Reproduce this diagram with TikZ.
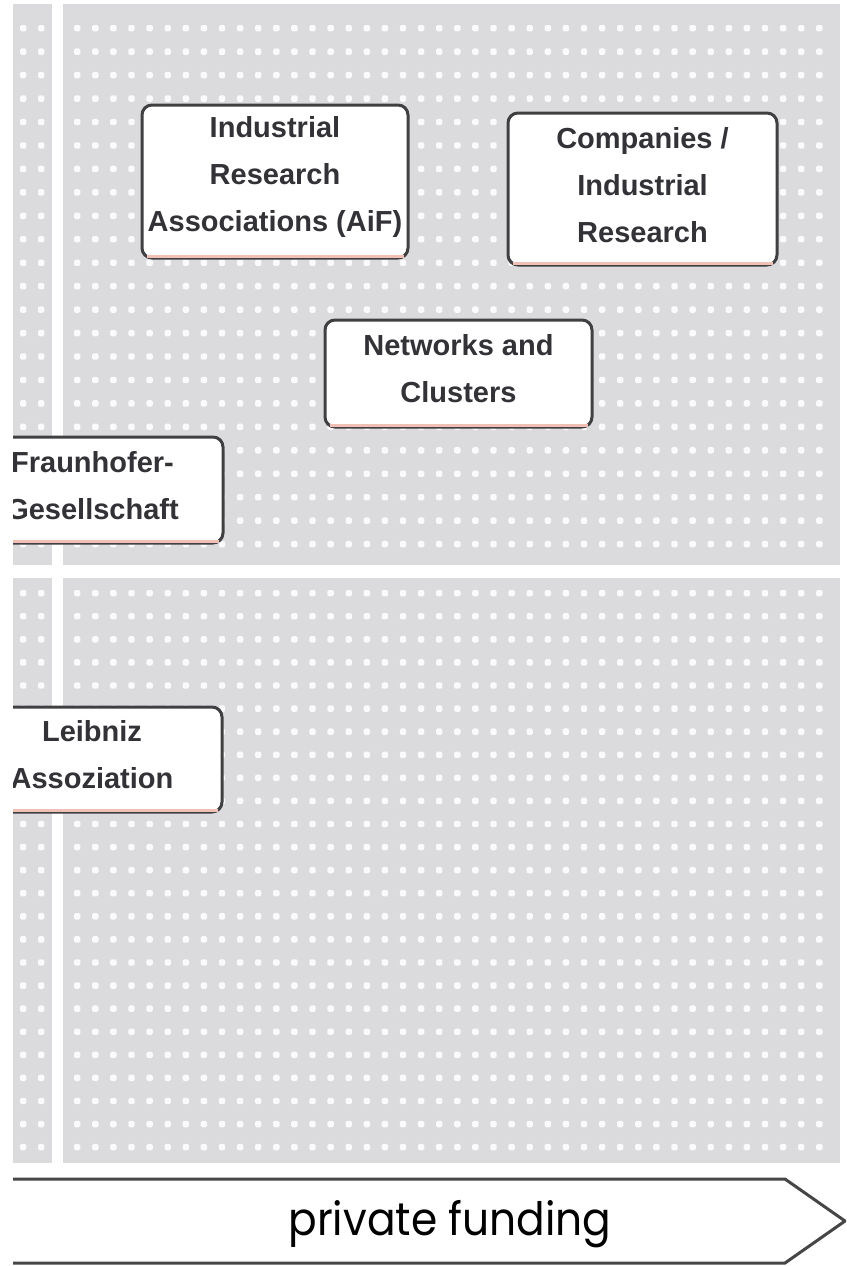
\documentclass[tikz,border=0pt]{standalone}
\usepackage{fontspec}
\setmainfont{Liberation Sans}
\newfontfamily\geofont{Poppins}
\definecolor{panelgray}{RGB}{219,219,221}
\definecolor{boxborder}{RGB}{64,64,66}
\definecolor{boxtext}{RGB}{50,50,55}
\definecolor{pinkline}{RGB}{240,192,182}
\definecolor{arrowline}{RGB}{70,70,70}
\definecolor{dotwhite}{RGB}{250,250,252}
\tikzset{
  panel/.style={fill=panelgray, draw=none},
  dot/.style={fill=dotwhite, rounded corners=1.5pt},
  orgbox/.style={draw=boxborder, line width=3pt, fill=white, rounded corners=10pt,
    inner sep=0pt},
  orgtext/.style={align=center, inner sep=0pt, text=boxtext,
    font=\fontsize{29}{47}\selectfont\bfseries},
  pinkbar/.style={draw=pinkline, line width=3pt},
  fundarrow/.style={draw=arrowline, line width=3pt, fill=white, line join=miter},
  fundtext/.style={font=\geofont\fontsize{46}{46}\selectfont, text=black, xscale=0.92}
}
\begin{document}
\begin{tikzpicture}[x=1pt, y=-1pt]
\useasboundingbox (0,0) rectangle (846,1266);
\fill[white] (0,0) rectangle (846,1266);
\begin{scope}
\clip (13,0) rectangle (846,1266);
% panels
\path[panel] (13,4) rectangle (52,565);
\path[panel] (63,4) rectangle (840,565);
\path[panel] (13,578) rectangle (52,1163);
\path[panel] (63,578) rectangle (840,1163);
% dots top
\foreach \j in {0,...,22}{
  \foreach \i in {0,...,41}{
    \fill[dot] (74+\i*18.1, 25+\j*23.45) rectangle ++(6.4,6.4);
  }
  \fill[dot] (20, 25+\j*23.45) rectangle ++(6.4,6.4);
  \fill[dot] (38, 25+\j*23.45) rectangle ++(6.4,6.4);
}
% dots bottom
\foreach \j in {0,...,24}{
  \foreach \i in {0,...,41}{
    \fill[dot] (74+\i*18.1, 590+\j*23.08) rectangle ++(6.4,6.4);
  }
  \fill[dot] (20, 590+\j*23.08) rectangle ++(6.4,6.4);
  \fill[dot] (38, 590+\j*23.08) rectangle ++(6.4,6.4);
}
% boxes
\node[orgbox, minimum width=266pt, minimum height=153pt] (aifbox) at (275,181.5) {};
\node[orgbox, minimum width=269pt, minimum height=152pt] (compbox) at (642.5,189) {};
\node[orgbox, minimum width=267pt, minimum height=107pt] (netbox) at (458.5,373.5) {};
\node[orgbox, minimum width=261pt, minimum height=106pt] (fhgbox) at (92.5,490) {};
\node[orgbox, minimum width=260pt, minimum height=105pt] (wglbox) at (92,759.5) {};
\foreach \n in {aifbox,compbox,netbox,fhgbox,wglbox}{
  \draw[pinkbar] ([xshift=6pt,yshift=3.5pt]\n.south west) -- ([xshift=-6pt,yshift=3.5pt]\n.south east);
}
\node[orgtext] (aif) at ([yshift=4.5pt]aifbox.center) {Industrial\\Research\\Associations (AiF)};
\node[orgtext] (comp) at ([yshift=4pt]compbox.center) {Companies /\\Industrial\\Research};
\node[orgtext] (net) at ([yshift=5pt]netbox.center) {Networks and\\Clusters};
\node[orgtext] (fhg) at ([yshift=4.5pt]fhgbox.center) {Fraunhofer-\\Gesellschaft};
\node[orgtext] (wgl) at ([yshift=5pt]wglbox.center) {Leibniz\\Assoziation};
% funding arrow
\draw[fundarrow] (13,1179) -- (785,1179) -- (845,1221) -- (785,1263) -- (13,1263);
\node[fundtext] (fund) at (450,1224) {private funding};
\end{scope}
\end{tikzpicture}
\end{document}
